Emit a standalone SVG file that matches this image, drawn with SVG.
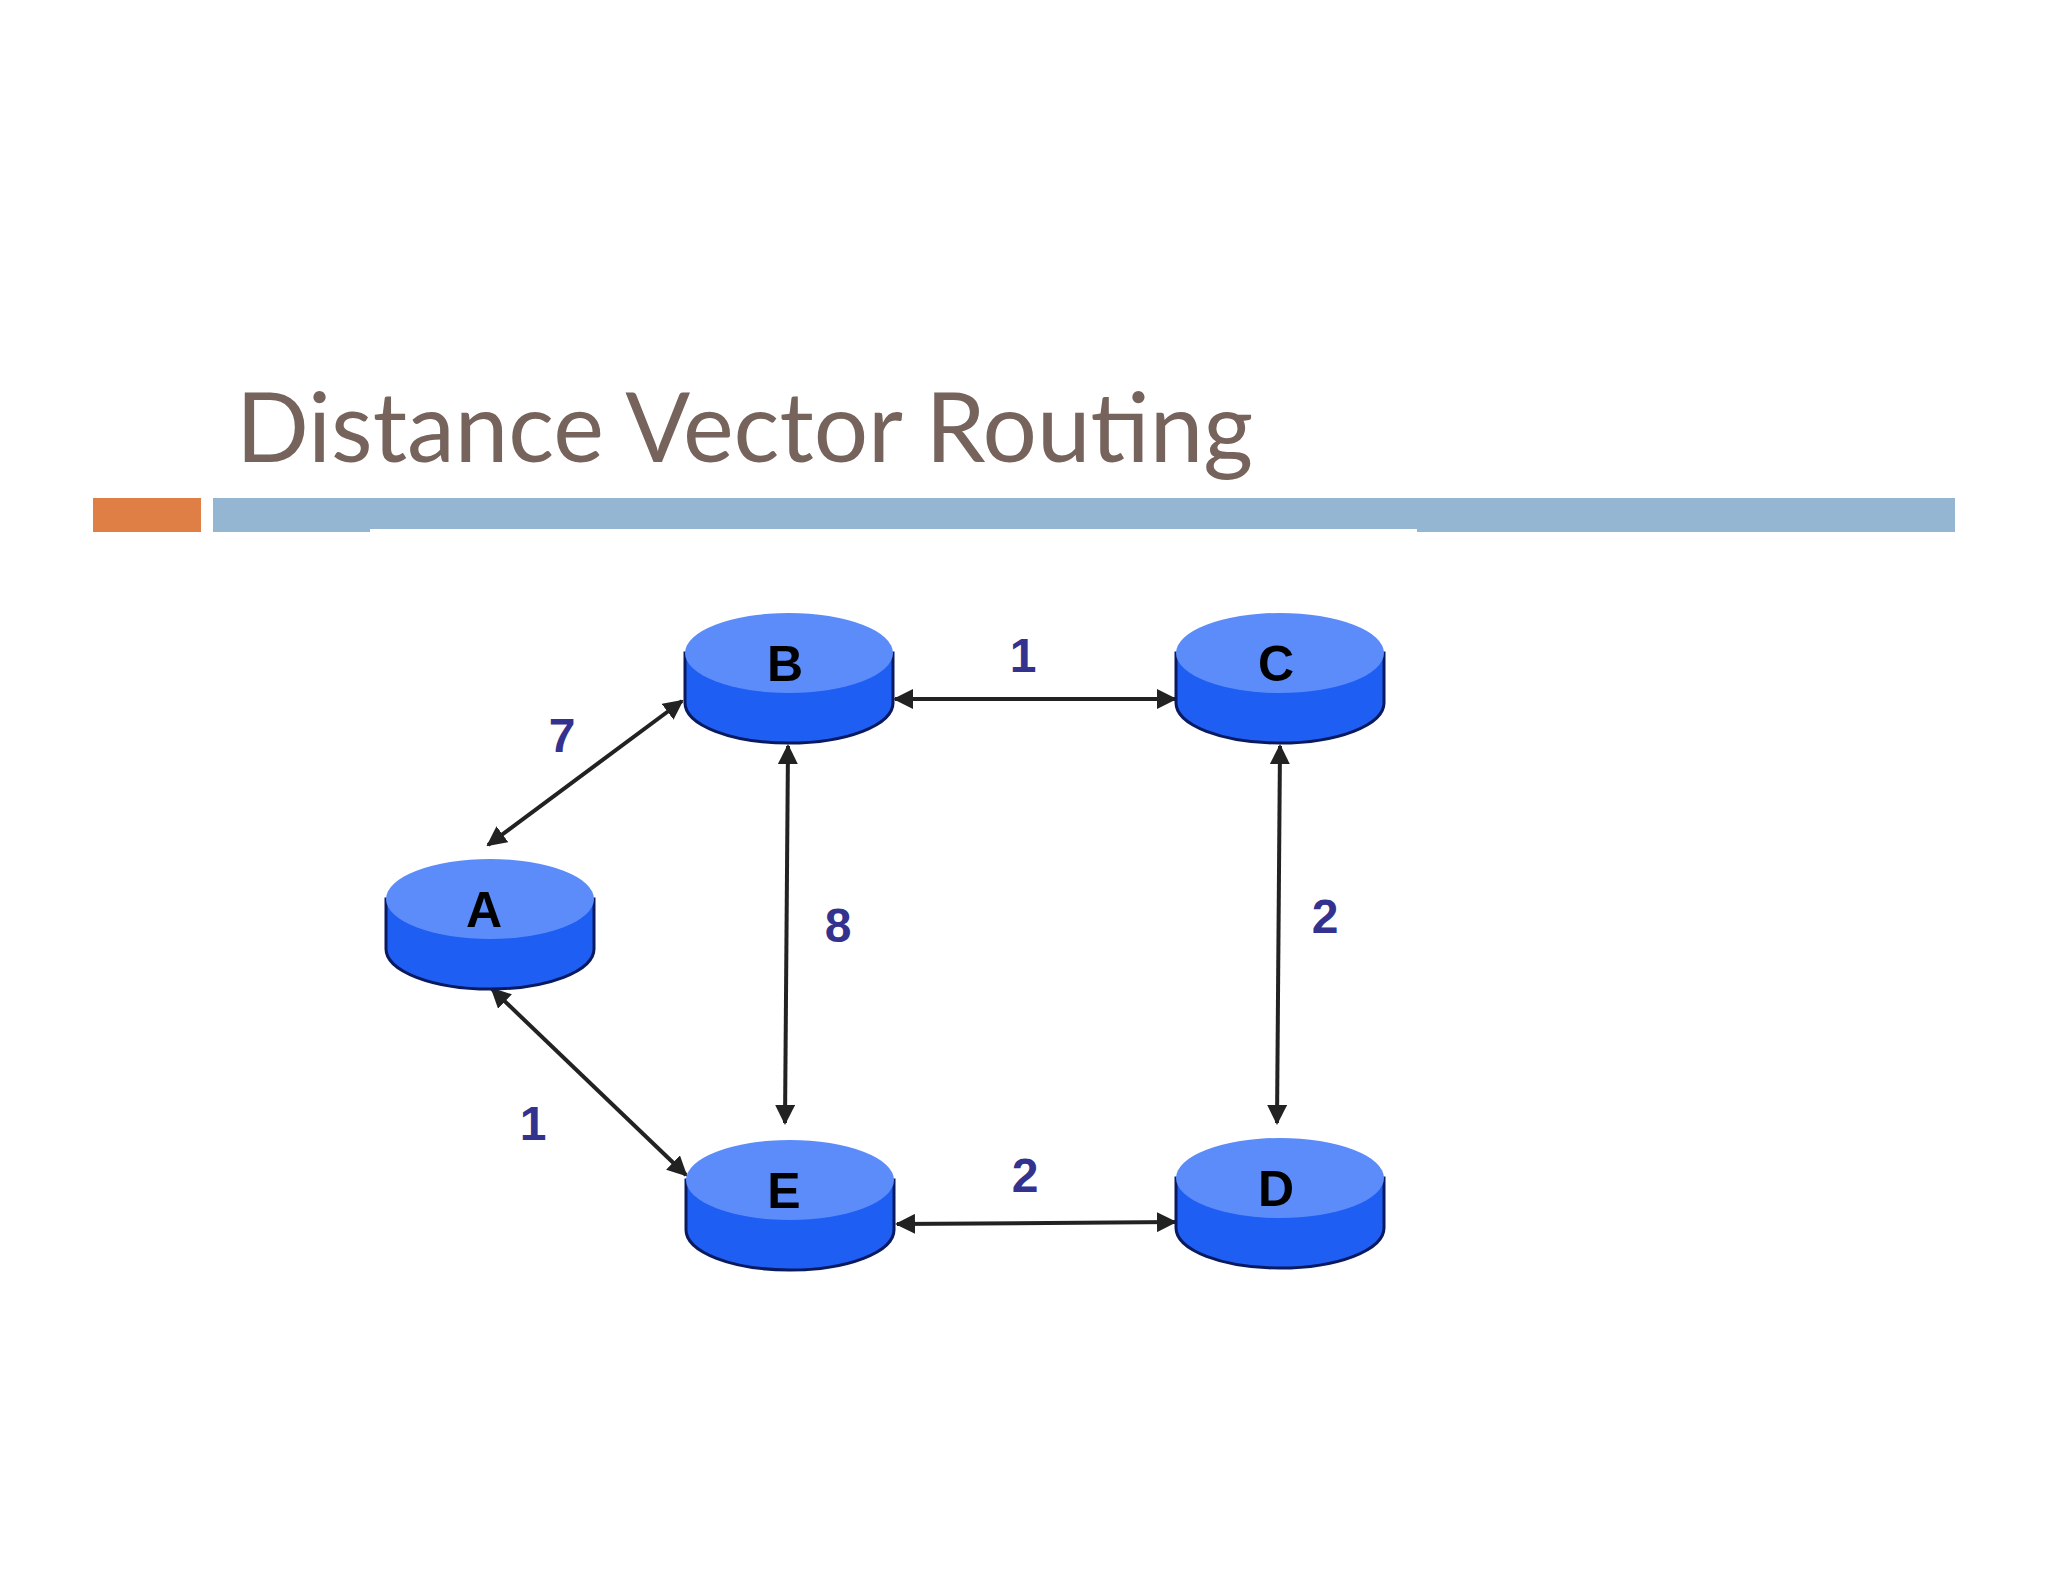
<svg xmlns="http://www.w3.org/2000/svg" width="2048" height="1582" viewBox="0 0 2048 1582">
<style>
.side{fill:#1e5ef2;stroke:#0a1a60;stroke-width:3}
.top{fill:#5b8cf9}
.nl{font-family:"Liberation Sans",Arial,sans-serif;font-weight:bold;font-size:50px;fill:#000;text-anchor:middle}
.el{font-family:"Liberation Sans",Arial,sans-serif;font-weight:bold;font-size:48px;fill:#33338f;text-anchor:middle}
.c{stroke:#222;stroke-width:4;fill:none;marker-start:url(#ah);marker-end:url(#ah)}
</style>
<defs>
<marker id="ah" viewBox="0 0 10 10" refX="9" refY="5" markerWidth="5" markerHeight="5" orient="auto-start-reverse"><path d="M0,0 L10,5 L0,10 z" fill="#222"/></marker>
<g id="disk"><path class="side" d="M-104,0 L-104,50 A104,40 0 0 0 104,50 L104,0 Z"/><ellipse class="top" cx="0" cy="0" rx="104" ry="40"/></g>
</defs>
<rect width="2048" height="1582" fill="#fff"/>
<text x="236" y="462" font-family="Lato,'Open Sans',sans-serif" font-size="96" fill="#76635b">Distance Vector Routing</text>
<rect x="93" y="498" width="108" height="34" fill="#e07f45"/>
<rect x="213" y="498" width="1742" height="34" fill="#95b6d2"/>
<rect x="370" y="529" width="1047" height="3" fill="#fff"/>
<g id="connectors">
<line class="c" x1="488" y1="845" x2="682" y2="701"/>
<line class="c" x1="788" y1="746" x2="785" y2="1123"/>
<line class="c" x1="895" y1="699" x2="1175" y2="699"/>
<line class="c" x1="1280" y1="746" x2="1277" y2="1123"/>
<line class="c" x1="492" y1="989" x2="686" y2="1175"/>
<line class="c" x1="897" y1="1224" x2="1175" y2="1222"/>
<text class="el" x="562" y="752">7</text>
<text class="el" x="1023" y="672">1</text>
<text class="el" x="838" y="942">8</text>
<text class="el" x="1325" y="933">2</text>
<text class="el" x="533" y="1140">1</text>
<text class="el" x="1025" y="1192">2</text>
</g>
<g id="nodeB"><use href="#disk" x="789" y="653"/><text class="nl" x="785" y="681">B</text></g>
<g id="nodeC"><use href="#disk" x="1280" y="653"/><text class="nl" x="1276" y="681">C</text></g>
<g id="nodeA"><use href="#disk" x="490" y="899"/><text class="nl" x="484" y="927">A</text></g>
<g id="nodeE"><use href="#disk" x="790" y="1180"/><text class="nl" x="784" y="1208">E</text></g>
<g id="nodeD"><use href="#disk" x="1280" y="1178"/><text class="nl" x="1276" y="1206">D</text></g>
</svg>
